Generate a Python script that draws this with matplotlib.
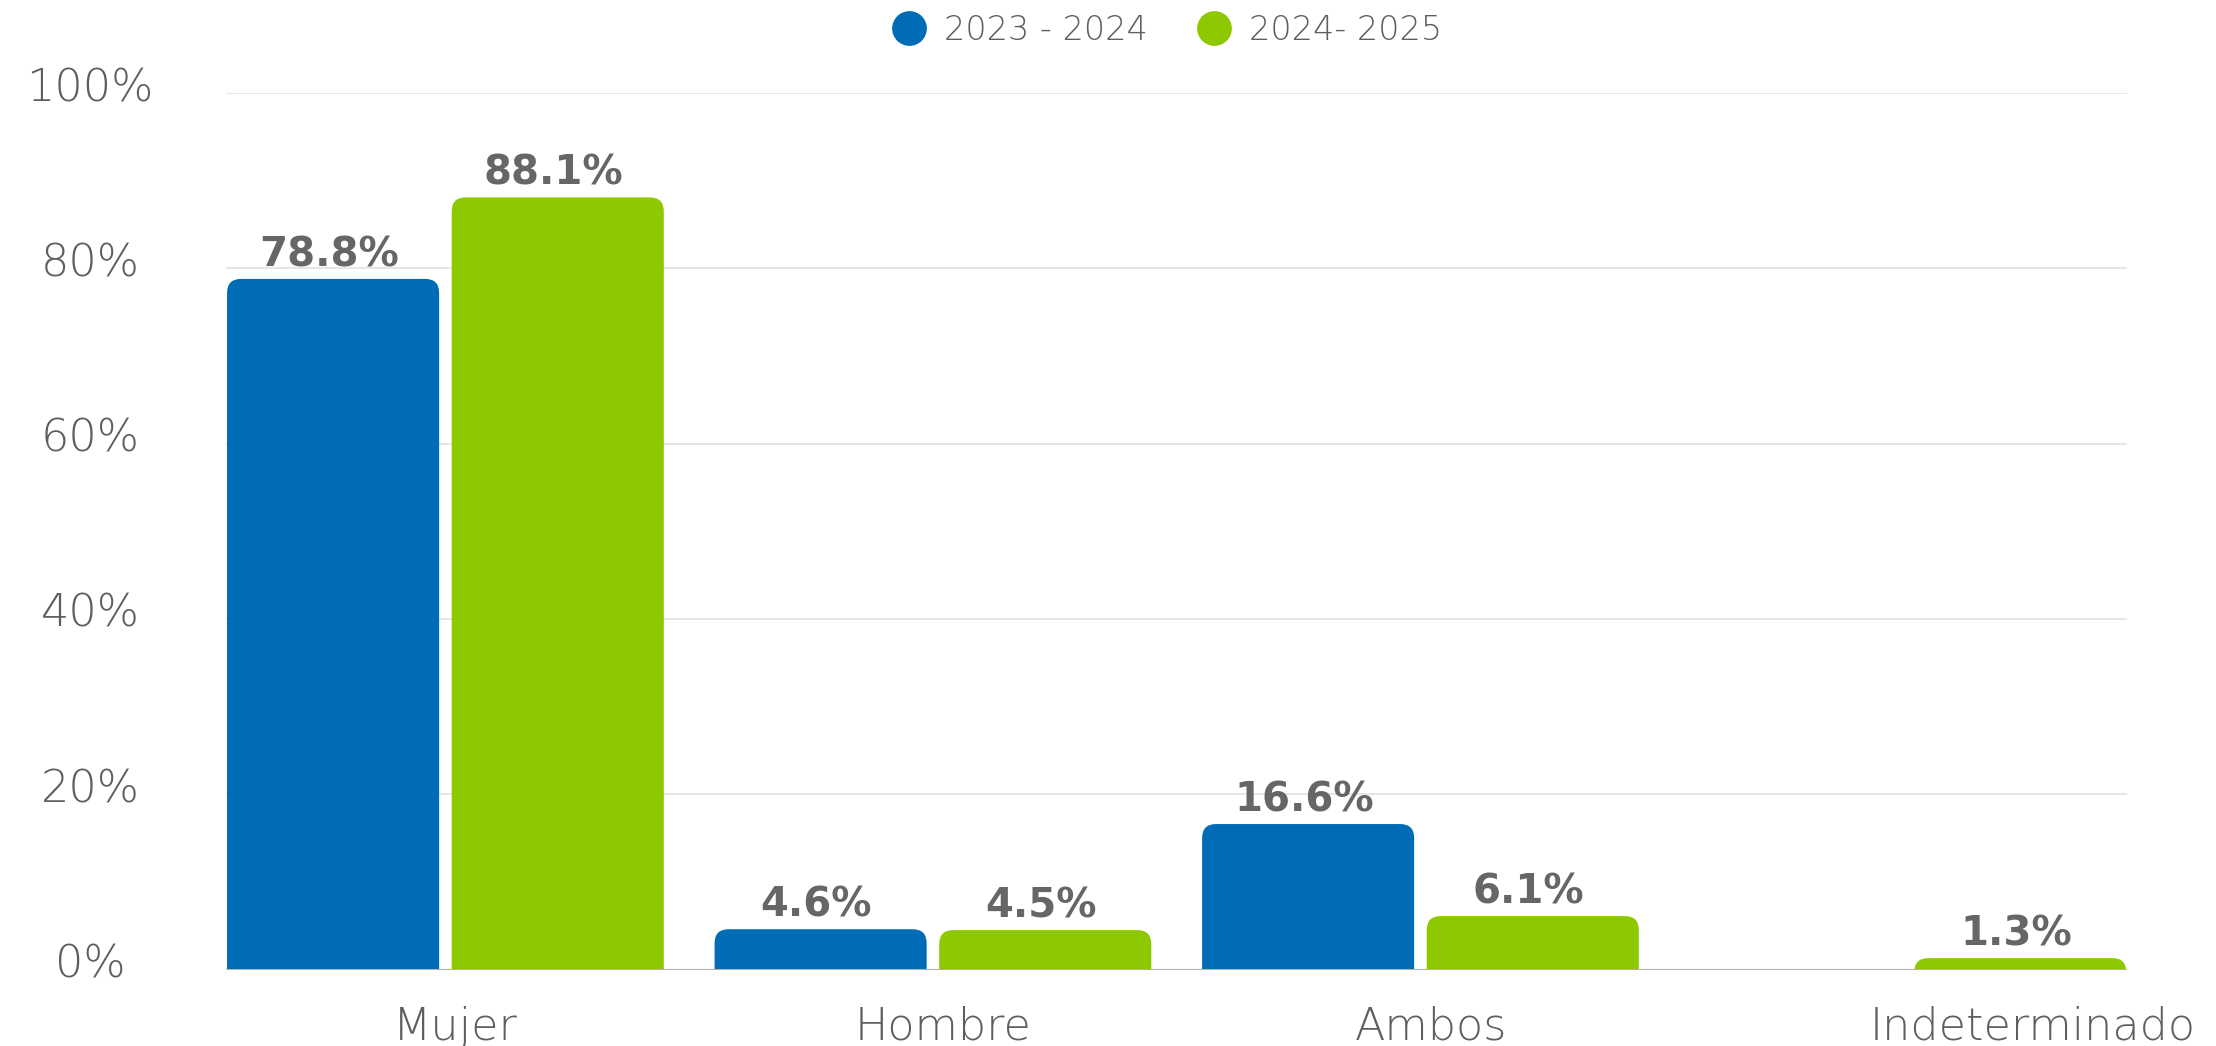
import matplotlib
matplotlib.use('Agg')
import matplotlib.pyplot as plt
import numpy as np
from matplotlib.patches import FancyBboxPatch
from matplotlib.lines import Line2D
from matplotlib.transforms import ScaledTranslation

categories = ["Mujer", "Hombre", "Ambos", "Indeterminado"]
series_names = ["2023 - 2024", "2024- 2025"]
vals_2324 = [78.8, 4.6, 16.6, 0.0]
vals_2425 = [88.1, 4.5, 6.1, 1.3]
yticks = [0, 20, 40, 60, 80, 100]

BLUE = "#006CB5"
GREEN = "#8DC800"
TXT = "#5E5E5E"
LIGHT = dict(family="DejaVu Sans", weight="light")

fig = plt.figure(figsize=(22.16, 10.46), dpi=100)
ax = fig.add_axes([0.102, 0.0731, 0.858, 0.8379])

x = np.arange(len(categories))
width, off = 0.435, 0.2304
b1 = ax.bar(x - off, vals_2324, width, color=BLUE)
b2 = ax.bar(x + off, vals_2425, width, color=GREEN)
ax.set_xlim(-0.45, 3.45)
ax.set_ylim(0, 100)

# rounded top corners (~14 px radius)
rx, ry = 14 / 487.6, 14 / 8.76
for bars, vals in ((b1, vals_2324), (b2, vals_2425)):
    for rect, v in zip(bars, vals):
        rect.set_visible(False)
        if v <= 0:
            continue
        p = FancyBboxPatch((rect.get_x(), -ry), rect.get_width(), rect.get_height() + ry,
                           boxstyle=f"round,pad=0,rounding_size={rx}",
                           mutation_aspect=ry / rx, fc=rect.get_facecolor(), ec="none", zorder=2)
        ax.add_patch(p)
        ax.annotate(f"{v:.1f}%", (rect.get_x() + rect.get_width() / 2, v), xytext=(-3, 9),
                    textcoords="offset points", ha="center", va="baseline",
                    fontsize=29, fontweight="bold", color="#666666", zorder=3)

# grid
for t in yticks[1:]:
    ax.axhline(t, color="#E2E2E2", lw=1.2, zorder=0)
ax.axhline(0, color="#B0B0B0", lw=1.5, zorder=3)
for s in ax.spines.values():
    s.set_visible(False)

ax.set_yticks(yticks)
ax.set_yticklabels([f"{t}%" for t in yticks], color=TXT, fontsize=32, ha="center", **LIGHT)
ax.tick_params(axis="y", length=0, pad=98)
for lbl in ax.get_yticklabels():
    lbl.set_transform(lbl.get_transform() + ScaledTranslation(0, 0.09, fig.dpi_scale_trans))
ax.set_xticks(x)
ax.set_xticklabels(categories, color=TXT, fontsize=32, **LIGHT)
ax.tick_params(axis="x", length=0, pad=26)
for i, lbl in enumerate(ax.get_xticklabels()):
    dx = 1.25 if i == 3 else 0.1
    lbl.set_transform(lbl.get_transform() + ScaledTranslation(dx, 0, fig.dpi_scale_trans))

handles = [Line2D([], [], marker="o", ls="none", markersize=24, color=c) for c in (BLUE, GREEN)]
leg = fig.legend(handles, series_names, loc="center", bbox_to_anchor=(0.523, 0.971), ncol=2,
                 frameon=False, handletextpad=0.05, columnspacing=1.0,
                 prop=dict(size=24, **LIGHT))
for t in leg.get_texts():
    t.set_color(TXT)

fig.savefig("out.png", dpi=100)
